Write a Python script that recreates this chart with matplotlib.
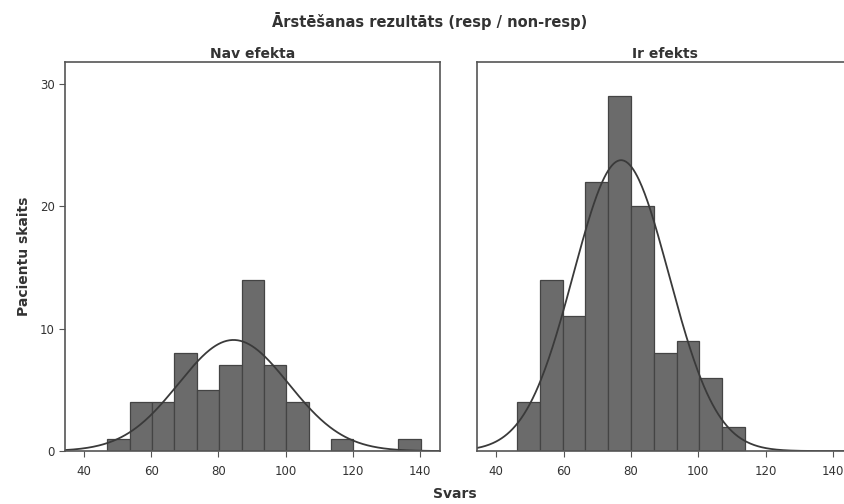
import numpy as np
import matplotlib.pyplot as plt

# histogram data (Svars, patient counts per bin)
left_start = 46.9
left_width = 20 / 3
left_counts = [1, 4, 4, 8, 5, 7, 14, 7, 4, 0, 1, 0, 0, 1]
left_mean, left_sd = 84.5, 16.4

right_start = 46.2
right_width = 6.77
right_counts = [4, 14, 11, 22, 29, 20, 8, 9, 6, 2]
right_mean, right_sd = 77.1, 14.2

x_ticks = [40, 60, 80, 100, 120, 140]
y_ticks = [0, 10, 20, 30]

bar_color = "#6b6b6b"
edge_color = "#444444"
line_color = "#3a3a3a"


def draw_panel(ax, start, width, counts, mean, sd, title, show_y):
    edges = start + width * np.arange(len(counts) + 1)
    ax.bar(edges[:-1], counts, width=width, align="edge",
           color=bar_color, edgecolor=edge_color, linewidth=0.9)
    n = sum(counts)
    xs = np.linspace(34.3, 146, 400)
    pdf = np.exp(-0.5 * ((xs - mean) / sd) ** 2) / (sd * np.sqrt(2 * np.pi))
    ax.plot(xs, n * width * pdf, color=line_color, linewidth=1.3)
    ax.set_xlim(34.3, 146)
    ax.set_ylim(0, 31.8)
    ax.set_xticks(x_ticks)
    ax.set_yticks(y_ticks)
    ax.tick_params(direction="out", length=4, color="#555555",
                   labelsize=8.5, labelcolor="#333333")
    ax.tick_params(axis="x", pad=6)
    if not show_y:
        ax.tick_params(axis="y", length=0, labelleft=False)
    for s in ax.spines.values():
        s.set_color("#555555")
        s.set_linewidth(1.2)
    ax.set_title(title, fontsize=10, fontweight="bold", color="#333333", pad=3)


fig = plt.figure(figsize=(8.45, 5.04), dpi=100)
ax1 = fig.add_axes([0.0769, 0.105, 0.4438, 0.772])
ax2 = fig.add_axes([0.5645, 0.105, 0.445, 0.772])

draw_panel(ax1, left_start, left_width, left_counts, left_mean, left_sd,
           "Nav efekta", True)
draw_panel(ax2, right_start, right_width, right_counts, right_mean, right_sd,
           "Ir efekts", False)

ax1.set_ylabel("Pacientu skaits", fontsize=10, fontweight="bold",
               color="#333333", labelpad=6)
fig.text(0.509, 0.976, "Ārstēšanas rezultāts (resp / non-resp)", ha="center",
         va="top", fontsize=10.5, fontweight="bold", color="#333333")
fig.text(0.538, 0.005, "Svars", ha="center", va="bottom", fontsize=10,
         fontweight="bold", color="#333333")

fig.savefig("out.png", dpi=100)
